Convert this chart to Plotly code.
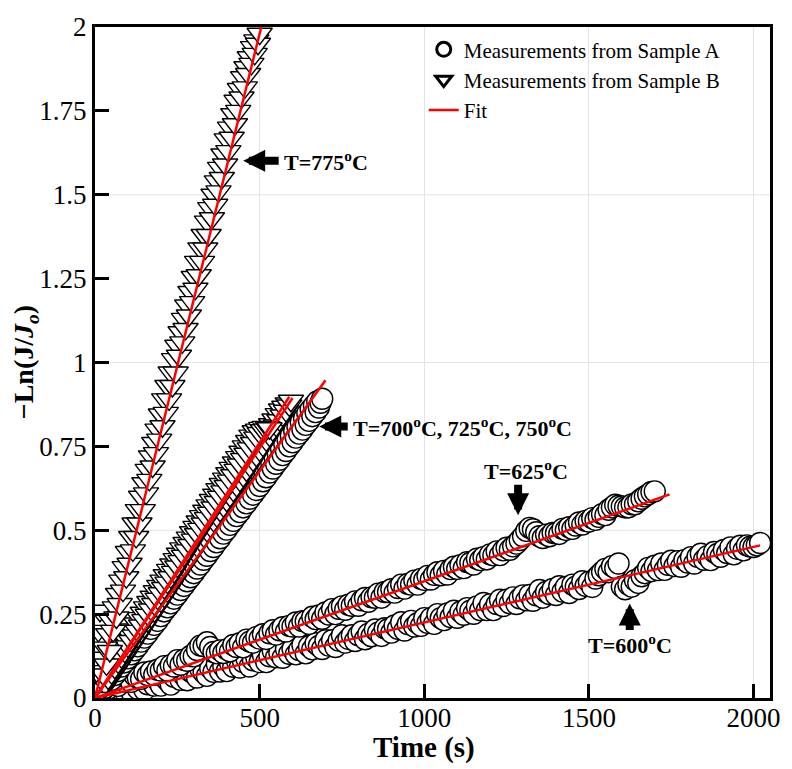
import plotly.graph_objects as go

# ---------------- measurements ----------------
# T = 600 C, Sample A
T600_A = [0, 10, 20, 30, 40, 50, 60, 70, 80, 90,
          100, 110, 120, 130, 140, 150, 160, 170, 180, 190,
          200, 210, 220, 230, 240, 250, 260, 270, 280, 290,
          300, 310, 320, 330, 340, 350, 360, 370, 380, 390,
          400, 410, 420, 430, 440, 450, 460, 470, 480, 490,
          500, 510, 520, 530, 540, 550, 560, 570, 580, 590,
          600, 610, 620, 630, 640, 650, 660, 670, 680, 690,
          700, 710, 720, 730, 740, 750, 760, 770, 780, 790,
          800, 810, 820, 830, 840, 850, 860, 870, 880, 890,
          900, 910, 920, 930, 940, 950, 960, 970, 980, 990,
          1000, 1010, 1020, 1030, 1040, 1050, 1060, 1070, 1080, 1090,
          1100, 1110, 1120, 1130, 1140, 1150, 1160, 1170, 1180, 1190,
          1200, 1210, 1220, 1230, 1240, 1250, 1260, 1270, 1280, 1290,
          1300, 1310, 1320, 1330, 1340, 1350, 1360, 1370, 1380, 1390,
          1400, 1410, 1420, 1430, 1440, 1450, 1460, 1470, 1480, 1490,
          1500, 1510, 1520, 1530, 1540, 1550, 1560, 1570, 1580, 1590,
          1600, 1610, 1620, 1630, 1640, 1650, 1660, 1670, 1680, 1690,
          1700, 1710, 1720, 1730, 1740, 1750, 1760, 1770, 1780, 1790,
          1800, 1810, 1820, 1830, 1840, 1850, 1860, 1870, 1880, 1890,
          1900, 1910, 1920, 1930, 1940, 1950, 1960, 1970, 1980, 1990,
          2000, 2010, 2020]
Y600_A = [0.004, 0.014, 0.002, 0.022, 0.011, 0.031, 0.010, 0.026, 0.040, 0.021,
          0.031, 0.019, 0.043, 0.027, 0.044, 0.024, 0.041, 0.056, 0.037, 0.053,
          0.037, 0.062, 0.052, 0.040, 0.063, 0.077, 0.054, 0.067, 0.053, 0.079,
          0.072, 0.061, 0.087, 0.076, 0.066, 0.089, 0.078, 0.101, 0.079, 0.094,
          0.080, 0.105, 0.093, 0.113, 0.091, 0.107, 0.118, 0.094, 0.112, 0.120,
          0.107, 0.128, 0.107, 0.124, 0.140, 0.121, 0.135, 0.120, 0.146, 0.132,
          0.146, 0.130, 0.143, 0.158, 0.133, 0.154, 0.145, 0.163, 0.155, 0.146,
          0.172, 0.156, 0.172, 0.152, 0.171, 0.187, 0.165, 0.176, 0.187, 0.170,
          0.187, 0.198, 0.175, 0.191, 0.184, 0.204, 0.195, 0.185, 0.208, 0.205,
          0.195, 0.216, 0.206, 0.226, 0.201, 0.220, 0.230, 0.213, 0.223, 0.215,
          0.238, 0.224, 0.238, 0.221, 0.250, 0.238, 0.232, 0.252, 0.241, 0.260,
          0.239, 0.257, 0.248, 0.268, 0.260, 0.251, 0.273, 0.262, 0.283, 0.262,
          0.279, 0.262, 0.280, 0.293, 0.274, 0.293, 0.282, 0.300, 0.280, 0.297,
          0.306, 0.291, 0.307, 0.290, 0.306, 0.322, 0.299, 0.316, 0.310, 0.325,
          0.307, 0.333, 0.317, 0.331, 0.313, 0.338, 0.332, 0.325, 0.348, 0.334,
          0.346, 0.331, 0.356, 0.366, 0.376, 0.385, 0.375, 0.393, 0.387, 0.401,
          0.332, 0.324, 0.338, 0.332, 0.351, 0.343, 0.363, 0.372, 0.388, 0.378,
          0.394, 0.381, 0.401, 0.382, 0.397, 0.409, 0.393, 0.408, 0.391, 0.411,
          0.404, 0.420, 0.401, 0.421, 0.430, 0.412, 0.423, 0.411, 0.435, 0.429,
          0.421, 0.441, 0.432, 0.449, 0.428, 0.445, 0.454, 0.440, 0.455, 0.451,
          0.450, 0.455, 0.462]

# T = 625 C, Sample A
T625_A = [0, 10, 20, 30, 40, 50, 60, 70, 80, 90,
          100, 110, 120, 130, 140, 150, 160, 170, 180, 190,
          200, 210, 220, 230, 240, 250, 260, 270, 280, 290,
          300, 310, 320, 330, 340, 350, 360, 370, 380, 390,
          400, 410, 420, 430, 440, 450, 460, 470, 480, 490,
          500, 510, 520, 530, 540, 550, 560, 570, 580, 590,
          600, 610, 620, 630, 640, 650, 660, 670, 680, 690,
          700, 710, 720, 730, 740, 750, 760, 770, 780, 790,
          800, 810, 820, 830, 840, 850, 860, 870, 880, 890,
          900, 910, 920, 930, 940, 950, 960, 970, 980, 990,
          1000, 1010, 1020, 1030, 1040, 1050, 1060, 1070, 1080, 1090,
          1100, 1110, 1120, 1130, 1140, 1150, 1160, 1170, 1180, 1190,
          1200, 1210, 1220, 1230, 1240, 1250, 1260, 1270, 1280, 1290,
          1300, 1310, 1320, 1330, 1340, 1350, 1360, 1370, 1380, 1390,
          1400, 1410, 1420, 1430, 1440, 1450, 1460, 1470, 1480, 1490,
          1500, 1510, 1520, 1530, 1540, 1550, 1560, 1570, 1580, 1590,
          1600, 1610, 1620, 1630, 1640, 1650, 1660, 1670, 1680, 1690,
          1700]
Y625_A = [0.005, 0.022, 0.017, 0.036, 0.028, 0.047, 0.041, 0.036, 0.056, 0.049,
          0.057, 0.048, 0.067, 0.060, 0.057, 0.076, 0.068, 0.079, 0.069, 0.084,
          0.082, 0.095, 0.082, 0.098, 0.094, 0.113, 0.099, 0.114, 0.111, 0.125,
          0.124, 0.143, 0.156, 0.155, 0.166, 0.152, 0.137, 0.133, 0.142, 0.134,
          0.145, 0.139, 0.158, 0.152, 0.163, 0.151, 0.174, 0.168, 0.165, 0.182,
          0.177, 0.190, 0.176, 0.193, 0.202, 0.189, 0.202, 0.211, 0.198, 0.215,
          0.213, 0.225, 0.213, 0.229, 0.229, 0.221, 0.242, 0.235, 0.246, 0.236,
          0.255, 0.249, 0.265, 0.250, 0.266, 0.273, 0.263, 0.278, 0.275, 0.288,
          0.275, 0.291, 0.298, 0.287, 0.300, 0.299, 0.311, 0.299, 0.316, 0.316,
          0.324, 0.314, 0.328, 0.338, 0.326, 0.340, 0.338, 0.350, 0.338, 0.355,
          0.352, 0.364, 0.353, 0.367, 0.375, 0.366, 0.379, 0.368, 0.384, 0.391,
          0.385, 0.396, 0.387, 0.405, 0.403, 0.398, 0.415, 0.411, 0.420, 0.413,
          0.428, 0.425, 0.437, 0.426, 0.440, 0.448, 0.442, 0.452, 0.460, 0.471,
          0.482, 0.498, 0.507, 0.503, 0.494, 0.482, 0.477, 0.487, 0.482, 0.492,
          0.491, 0.489, 0.504, 0.501, 0.509, 0.504, 0.514, 0.523, 0.517, 0.528,
          0.526, 0.536, 0.531, 0.540, 0.548, 0.545, 0.561, 0.568, 0.576, 0.573,
          0.571, 0.568, 0.568, 0.577, 0.577, 0.586, 0.594, 0.601, 0.607, 0.614,
          0.616]

# T = 700 C, Sample A
T700_A = [0, 5, 10, 15, 20, 25, 30, 35, 40, 45, 50, 55, 60, 65, 70, 75, 80, 85, 90, 95,
          100, 105, 110, 115, 120, 125, 130, 135, 140, 145, 150, 155, 160, 165, 170, 175, 180, 185, 190, 195,
          200, 205, 210, 215, 220, 225, 230, 235, 240, 245, 250, 255, 260, 265, 270, 275, 280, 285, 290, 295,
          300, 305, 310, 315, 320, 325, 330, 335, 340, 345, 350, 355, 360, 365, 370, 375, 380, 385, 390, 395,
          400, 405, 410, 415, 420, 425, 430, 435, 440, 445, 450, 455, 460, 465, 470, 475, 480, 485, 490, 495,
          500, 505, 510, 515, 520, 525, 530, 535, 540, 545, 550, 555, 560, 565, 570, 575, 580, 585, 590, 595,
          600, 605, 610, 615, 620, 625, 630, 635, 640, 645, 650, 655, 660, 665, 670, 675, 680, 685, 690]
Y700_A = [0.000, 0.014, 0.006, 0.032, 0.018, 0.046, 0.030, 0.058, 0.042, 0.070,
          0.054, 0.086, 0.068, 0.100, 0.080, 0.112, 0.094, 0.124, 0.106, 0.138,
          0.118, 0.150, 0.130, 0.162, 0.142, 0.178, 0.154, 0.190, 0.168, 0.202,
          0.180, 0.216, 0.192, 0.228, 0.206, 0.240, 0.218, 0.254, 0.230, 0.266,
          0.244, 0.280, 0.258, 0.292, 0.270, 0.306, 0.282, 0.318, 0.296, 0.330,
          0.308, 0.344, 0.322, 0.356, 0.334, 0.370, 0.348, 0.382, 0.360, 0.394,
          0.372, 0.408, 0.386, 0.420, 0.398, 0.432, 0.412, 0.446, 0.424, 0.458,
          0.438, 0.472, 0.450, 0.484, 0.464, 0.498, 0.476, 0.510, 0.490, 0.522,
          0.502, 0.536, 0.516, 0.548, 0.528, 0.562, 0.542, 0.574, 0.554, 0.588,
          0.568, 0.600, 0.580, 0.614, 0.594, 0.626, 0.606, 0.640, 0.620, 0.652,
          0.632, 0.666, 0.646, 0.678, 0.658, 0.692, 0.672, 0.704, 0.684, 0.718,
          0.698, 0.730, 0.710, 0.744, 0.724, 0.756, 0.736, 0.770, 0.750, 0.782,
          0.762, 0.796, 0.776, 0.808, 0.788, 0.822, 0.800, 0.834, 0.814, 0.848,
          0.826, 0.860, 0.840, 0.872, 0.852, 0.884, 0.866, 0.880, 0.892]

# T = 725 C, Sample B
T725_B = [0, 5, 10, 15, 20, 25, 30, 35, 40, 45, 50, 55, 60, 65, 70, 75, 80, 85, 90, 95,
          100, 105, 110, 115, 120, 125, 130, 135, 140, 145, 150, 155, 160, 165, 170, 175, 180, 185, 190, 195,
          200, 205, 210, 215, 220, 225, 230, 235, 240, 245, 250, 255, 260, 265, 270, 275, 280, 285, 290, 295,
          300, 305, 310, 315, 320, 325, 330, 335, 340, 345, 350, 355, 360, 365, 370, 375, 380, 385, 390, 395,
          400, 405, 410, 415, 420, 425, 430, 435, 440, 445, 450, 455, 460, 465, 470, 475, 480, 485, 490, 495,
          500, 505, 510, 515, 520, 525, 530, 535, 540, 545, 550, 555, 560, 565, 570, 575, 580, 585, 590, 595]
Y725_B = [0.000, 0.022, 0.008, 0.036, 0.020, 0.052, 0.034, 0.066, 0.048, 0.082,
          0.064, 0.096, 0.078, 0.110, 0.092, 0.126, 0.108, 0.140, 0.122, 0.156,
          0.138, 0.170, 0.152, 0.186, 0.168, 0.200, 0.182, 0.216, 0.198, 0.230,
          0.212, 0.246, 0.228, 0.260, 0.242, 0.276, 0.258, 0.290, 0.272, 0.306,
          0.288, 0.320, 0.302, 0.336, 0.318, 0.350, 0.332, 0.366, 0.348, 0.380,
          0.362, 0.396, 0.378, 0.410, 0.392, 0.426, 0.408, 0.440, 0.422, 0.456,
          0.438, 0.470, 0.452, 0.486, 0.468, 0.500, 0.482, 0.516, 0.498, 0.530,
          0.512, 0.546, 0.528, 0.560, 0.542, 0.576, 0.558, 0.590, 0.572, 0.606,
          0.588, 0.620, 0.602, 0.636, 0.618, 0.650, 0.632, 0.666, 0.648, 0.680,
          0.662, 0.696, 0.678, 0.710, 0.692, 0.726, 0.708, 0.740, 0.722, 0.756,
          0.738, 0.770, 0.752, 0.786, 0.768, 0.800, 0.782, 0.816, 0.798, 0.830,
          0.812, 0.846, 0.828, 0.860, 0.842, 0.868, 0.856, 0.878, 0.872, 0.886]

# T = 750 C, Sample B
T750_B = [0, 5, 10, 15, 20, 25, 30, 35, 40, 45, 50, 55, 60, 65, 70, 75, 80, 85, 90, 95,
          100, 105, 110, 115, 120, 125, 130, 135, 140, 145, 150, 155, 160, 165, 170, 175, 180, 185, 190, 195,
          200, 205, 210, 215, 220, 225, 230, 235, 240, 245, 250, 255, 260, 265, 270, 275, 280, 285, 290, 295,
          300, 305, 310, 315, 320, 325, 330, 335, 340, 345, 350, 355, 360, 365, 370, 375, 380, 385, 390, 395,
          400, 405, 410, 415, 420, 425, 430, 435, 440, 445, 450, 455, 460, 465, 470, 475, 480, 485, 490, 495,
          500, 505, 510, 515, 520, 525, 530]
Y750_B = [0.000, 0.030, 0.012, 0.044, 0.026, 0.060, 0.042, 0.078, 0.058, 0.092,
          0.074, 0.108, 0.090, 0.124, 0.106, 0.140, 0.122, 0.156, 0.138, 0.172,
          0.154, 0.188, 0.170, 0.204, 0.186, 0.222, 0.200, 0.238, 0.216, 0.254,
          0.232, 0.270, 0.248, 0.286, 0.264, 0.302, 0.280, 0.318, 0.296, 0.334,
          0.312, 0.350, 0.328, 0.366, 0.344, 0.382, 0.360, 0.398, 0.376, 0.414,
          0.392, 0.430, 0.408, 0.446, 0.424, 0.462, 0.440, 0.478, 0.456, 0.494,
          0.472, 0.510, 0.488, 0.526, 0.504, 0.542, 0.520, 0.558, 0.536, 0.574,
          0.552, 0.590, 0.568, 0.606, 0.584, 0.622, 0.600, 0.638, 0.616, 0.654,
          0.632, 0.670, 0.648, 0.686, 0.664, 0.702, 0.680, 0.718, 0.696, 0.734,
          0.712, 0.750, 0.728, 0.766, 0.744, 0.782, 0.760, 0.795, 0.776, 0.800,
          0.790, 0.805, 0.798, 0.808, 0.800, 0.806, 0.804]

# T = 775 C, Sample B
T775_B = [0, 5, 10, 15, 20, 25, 30, 35, 40, 45, 50, 55, 60, 65, 70, 75, 80, 85, 90, 95,
          100, 105, 110, 115, 120, 125, 130, 135, 140, 145, 150, 155, 160, 165, 170, 175, 180, 185, 190, 195,
          200, 205, 210, 215, 220, 225, 230, 235, 240, 245, 250, 255, 260, 265, 270, 275, 280, 285, 290, 295,
          300, 305, 310, 315, 320, 325, 330, 335, 340, 345, 350, 355, 360, 365, 370, 375, 380, 385, 390, 395,
          400, 405, 410, 415, 420, 425, 430, 435, 440, 445, 450, 455, 460, 465, 470, 475, 480, 485, 490, 495,
          500]
Y775_B = [0.00, 0.08, 0.20, 0.26, 0.12, 0.07, 0.15, 0.10, 0.19, 0.14,
          0.23, 0.20, 0.27, 0.24, 0.31, 0.28, 0.35, 0.32, 0.39, 0.36,
          0.435, 0.40, 0.48, 0.44, 0.52, 0.48, 0.56, 0.52, 0.60, 0.56,
          0.64, 0.61, 0.68, 0.65, 0.72, 0.69, 0.76, 0.73, 0.80, 0.77,
          0.845, 0.81, 0.89, 0.85, 0.93, 0.89, 0.97, 0.93, 1.01, 0.97,
          1.05, 1.02, 1.09, 1.06, 1.13, 1.10, 1.17, 1.14, 1.21, 1.18,
          1.255, 1.22, 1.30, 1.26, 1.34, 1.30, 1.38, 1.34, 1.42, 1.38,
          1.46, 1.43, 1.50, 1.47, 1.54, 1.51, 1.58, 1.55, 1.62, 1.59,
          1.665, 1.63, 1.70, 1.67, 1.74, 1.71, 1.78, 1.75, 1.815, 1.79,
          1.85, 1.82, 1.88, 1.86, 1.91, 1.89, 1.94, 1.92, 1.96, 1.95,
          1.98]

# ---------------- linear fits (start, end) ----------------
FIT_T = {"600": [0, 2020], "625": [0, 1745], "700": [0, 700], "725": [0, 600], "750": [0, 590], "775": [0, 510]}
FIT_Y = {"600": [0, 0.455], "625": [0, 0.607], "700": [0, 0.947], "725": [0, 0.894], "750": [0, 0.898], "775": [0, 2.02]}

X_TICKS = [0, 500, 1000, 1500, 2000]
X_TICK_TEXT = ["0", "500", "1000", "1500", "2000"]
Y_TICKS = [0, 0.25, 0.5, 0.75, 1.0, 1.25, 1.5, 1.75, 2.0]
Y_TICK_TEXT = ["0", "0.25", "0.5", "0.75", "1", "1.25", "1.5", "1.75", "2"]
Y_GRID = [0.5, 1.0, 1.5]

SERIF = "Liberation Serif, Times New Roman, serif"

fig = go.Figure()


def add_meas(t, y, symbol, size):
    fig.add_trace(go.Scatter(
        x=t, y=y, mode="markers", showlegend=False, hoverinfo="skip",
        marker=dict(symbol=symbol, size=size, color="white",
                    line=dict(color="black", width=1.4))))


# sample A (circles)
add_meas(T600_A, Y600_A, "circle", 21)
add_meas(T625_A, Y625_A, "circle", 21)
add_meas(T700_A, Y700_A, "circle", 21)
# sample B (down triangles)
add_meas(T725_B, Y725_B, "triangle-down", 22)
add_meas(T750_B, Y750_B, "triangle-down", 22)
add_meas(T775_B, Y775_B, "triangle-down", 22)

# fit lines on top
for key in ["600", "625", "700", "725", "750", "775"]:
    fig.add_trace(go.Scatter(x=FIT_T[key], y=FIT_Y[key], mode="lines", showlegend=False,
                             hoverinfo="skip", line=dict(color="red", width=2.5)))

# legend entries
fig.add_trace(go.Scatter(x=[None], y=[None], mode="markers", name="Measurements from Sample A",
                         legendrank=1,
                         marker=dict(symbol="circle-open", size=14, color="black",
                                     line=dict(width=3, color="black"))))
fig.add_trace(go.Scatter(x=[None], y=[None], mode="markers", name="Measurements from Sample B",
                         legendrank=2,
                         marker=dict(symbol="triangle-down-open", size=14, color="black",
                                     line=dict(width=3, color="black"))))
fig.add_trace(go.Scatter(x=[None], y=[None], mode="lines", name="Fit", legendrank=3,
                         line=dict(color="red", width=2.5)))

shapes = [dict(type="line", xref="paper", x0=0, x1=1, yref="y", y0=g, y1=g,
               line=dict(color="#e4e4e4", width=1), layer="below") for g in Y_GRID]

lab_font = dict(family=SERIF, size=22, color="black")
annotations = [
    # axis titles
    dict(text="<b>Time (s)</b>", xref="paper", yref="paper", x=0.4876, y=-0.0745,
         xanchor="center", yanchor="middle", showarrow=False,
         font=dict(family=SERIF, size=29, color="black")),
    dict(text="<b>\u2212Ln(J/<i>J</i><sub><i>o</i></sub>)</b>", xref="paper", yref="paper",
         x=-0.1025, y=0.5, xanchor="center", yanchor="middle", textangle=-90, showarrow=False,
         font=dict(family=SERIF, size=28, color="black")),
    # temperature labels
    dict(text="<b>T=775<sup>o</sup>C</b>", x=568, y=1.601, xanchor="left", yanchor="middle",
         showarrow=False, font=lab_font),
    dict(text="<b>T=700<sup>o</sup>C, 725<sup>o</sup>C, 750<sup>o</sup>C</b>", x=777, y=0.809,
         xanchor="left", yanchor="middle", showarrow=False, font=lab_font),
    dict(text="<b>T=625<sup>o</sup>C</b>", x=1310, y=0.680, xanchor="center", yanchor="middle",
         showarrow=False, font=lab_font),
    dict(text="<b>T=600<sup>o</sup>C</b>", x=1625, y=0.161, xanchor="center", yanchor="middle",
         showarrow=False, font=lab_font),
]
# block arrows
for (ax_t, ax_y, dx, dy) in [(450, 1.601, 37, 0), (681, 0.809, 30, 0),
                             (1285, 0.545, 0, -32), (1624, 0.2815, 0, 28)]:
    annotations.append(dict(text="", x=ax_t, y=ax_y, ax=dx, ay=dy, showarrow=True,
                            arrowhead=2, arrowsize=0.55, arrowwidth=8, arrowcolor="black",
                            standoff=0))

fig.update_layout(
    width=792, height=769,
    margin=dict(l=95, r=14, t=15, b=71),
    paper_bgcolor="white", plot_bgcolor="white",
    font=dict(family=SERIF, color="black"),
    showlegend=True,
    legend=dict(x=0.487, y=0.9967, xanchor="left", yanchor="top", bgcolor="rgba(0,0,0,0)",
                font=dict(family=SERIF, size=21, color="black"), tracegroupgap=0,
                itemwidth=30),
    xaxis=dict(range=[0, 2050], tickvals=X_TICKS, ticktext=X_TICK_TEXT, ticks="inside",
               ticklen=14, tickwidth=2.5, tickcolor="black", showline=True, linewidth=3,
               linecolor="black", mirror=True, showgrid=True, gridcolor="#e4e4e4", gridwidth=1,
               zeroline=False, ticklabelstandoff=-6,
               tickfont=dict(family=SERIF, size=27, color="black")),
    yaxis=dict(range=[0, 2], tickvals=Y_TICKS, ticktext=Y_TICK_TEXT, ticks="inside",
               ticklen=14, tickwidth=2.5, tickcolor="black", showline=True, linewidth=3,
               linecolor="black", mirror=True, showgrid=False, zeroline=False,
               tickfont=dict(family=SERIF, size=27, color="black")),
    shapes=shapes,
    annotations=annotations,
)

fig.write_html("out.html")
